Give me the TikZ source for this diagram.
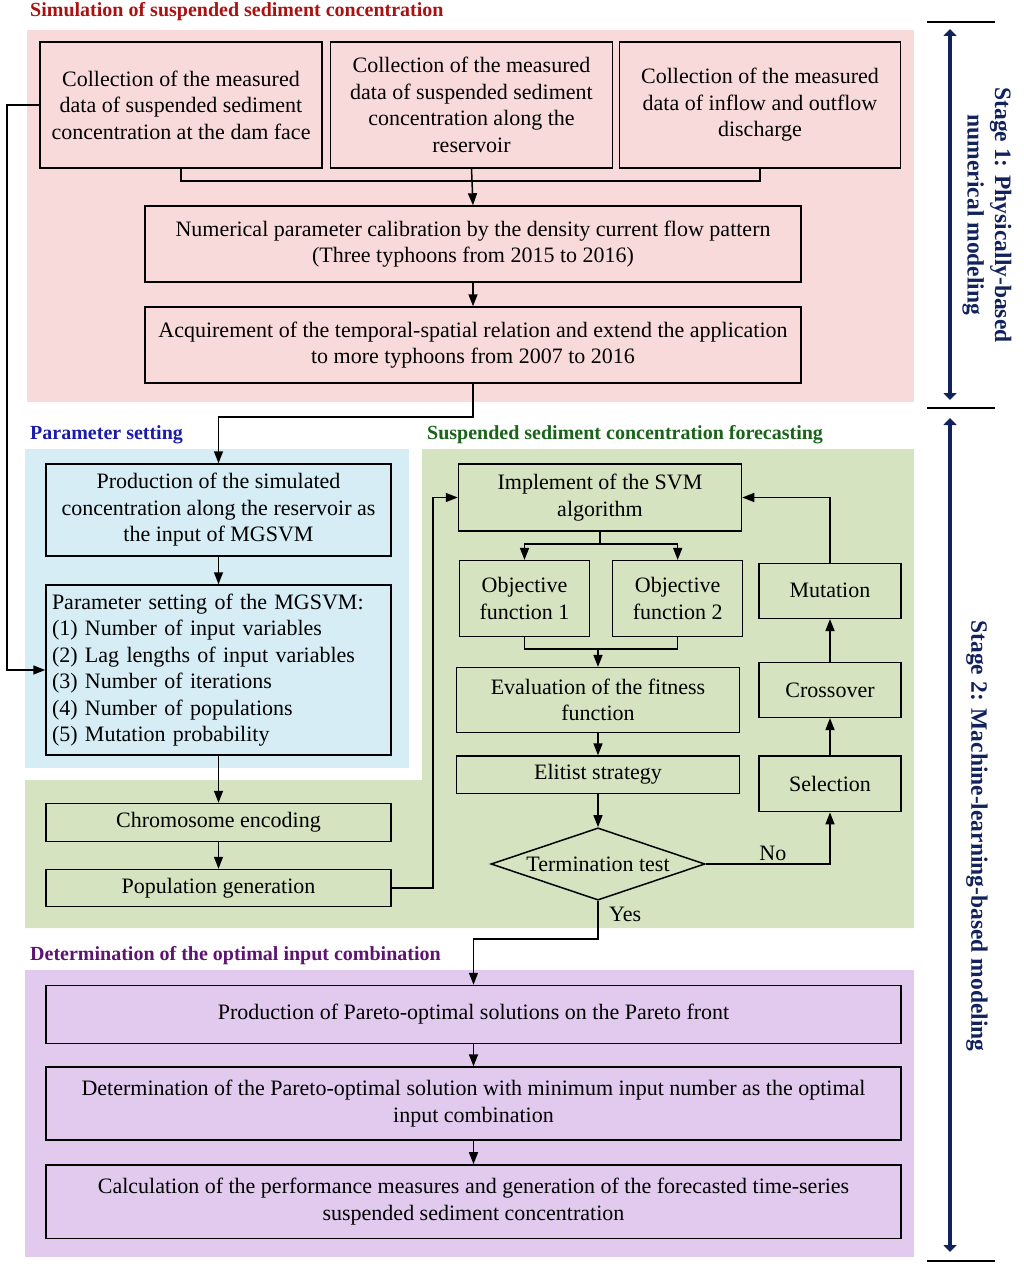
\documentclass[tikz,border=0pt]{standalone}
\usepackage{fontspec}
\setmainfont{Liberation Serif}
\usetikzlibrary{arrows.meta,shapes.geometric}
\definecolor{pinkbg}{RGB}{249,218,218}
\definecolor{bluebg}{RGB}{214,237,245}
\definecolor{greenbg}{RGB}{214,227,192}
\definecolor{purplebg}{RGB}{226,201,238}
\definecolor{redtitle}{RGB}{170,18,18}
\definecolor{bluetitle}{RGB}{28,28,170}
\definecolor{greentitle}{RGB}{25,100,25}
\definecolor{purpletitle}{RGB}{95,20,115}
\definecolor{navy}{RGB}{18,34,92}
\begin{document}
\begin{tikzpicture}[x=1pt,y=-1pt,
  box/.style={draw, line width=1.5pt, align=center, font=\fontsize{22}{26.5}\selectfont, inner sep=2pt},
  arr/.style={line width=1.5pt, -{Triangle[length=12pt,width=9pt]}},
  ln/.style={line width=1.5pt},
  ttl/.style={anchor=base west, inner sep=0pt, font=\bfseries\fontsize{20}{24}\selectfont},
  stg/.style={rotate=-90, align=center, text=navy, font=\bfseries\fontsize{23.5}{27.5}\selectfont},
  bar/.style={line width=2.5pt},
  darr/.style={navy, line width=4.5pt, {Triangle[length=7pt,width=13pt]}-{Triangle[length=7pt,width=13pt]}}]
\useasboundingbox (0,0) rectangle (1024,1271);
% backgrounds
\fill[pinkbg] (27,30) rectangle (914,402);
\fill[bluebg] (25,449) rectangle (409,768);
\fill[greenbg] (422,449) -- (914,449) -- (914,928) -- (25,928) -- (25,780) -- (422,780) -- cycle;
\fill[purplebg] (25,970) rectangle (914,1257);
% titles
\node[ttl, text=redtitle] (t1) at (30,17) {Simulation of suspended sediment concentration};
\node[ttl, text=bluetitle] (t2) at (30,439) {Parameter setting};
\node[ttl, text=greentitle] (t3) at (427,439) {Suspended sediment concentration forecasting};
\node[ttl, text=purpletitle] (t4) at (30,960) {Determination of the optimal input combination};
% stage 1 boxes
\node[box, minimum width=282pt, minimum height=126pt] (b1) at (181,105) {Collection of the measured\\data of suspended sediment\\concentration at the dam face};
\node[box, minimum width=282pt, minimum height=126pt] (b2) at (471.5,105) {Collection of the measured\\data of suspended sediment\\concentration along the\\reservoir};
\node[box, minimum width=281pt, minimum height=126pt] (b3) at (760,105) {Collection of the measured\\data of inflow and outflow\\discharge};
\node[box, minimum width=656pt, minimum height=76pt] (b4) at (473,244) {Numerical parameter calibration by the density current flow pattern\\(Three typhoons from 2015 to 2016)};
\node[box, minimum width=656pt, minimum height=76pt] (b5) at (473,345) {Acquirement of the temporal-spatial relation and extend the application\\to more typhoons from 2007 to 2016};
% parameter setting
\node[box, minimum width=345pt, minimum height=92pt] (b6) at (218.5,510) {Production of the simulated\\concentration along the reservoir as\\the input of MGSVM};
\node[box, minimum width=345pt, minimum height=170pt, align=left, text width=333pt, inner xsep=6pt] (b7) at (218.5,670) {Parameter setting of the MGSVM:\\(1) Number of input variables\\(2) Lag lengths of input variables\\(3) Number of iterations\\(4) Number of populations\\(5) Mutation probability};
\node[box, minimum width=345pt, minimum height=38pt] (chromo) at (218.5,822.5) {Chromosome encoding};
\node[box, minimum width=345pt, minimum height=37pt] (popgen) at (218.5,888) {Population generation};
% GA loop
\node[box, minimum width=283pt, minimum height=67pt] (svm) at (600,497.5) {Implement of the SVM\\algorithm};
\node[box, minimum width=130pt, minimum height=76pt] (obj1) at (524.5,598.7) {Objective\\function 1};
\node[box, minimum width=130pt, minimum height=76pt] (obj2) at (677.7,598.7) {Objective\\function 2};
\node[box, minimum width=283pt, minimum height=64.6pt] (eval) at (598,700) {Evaluation of the fitness\\function};
\node[box, minimum width=283pt, minimum height=37.3pt] (elit) at (598,774.7) {Elitist strategy};
\node[draw, line width=1.5pt, diamond, minimum width=214pt, minimum height=72.3pt, inner sep=0pt] (term) at (598,864) {};
\node[font=\fontsize{22}{26}\selectfont, inner sep=0pt] (termtxt) at (term.center) {Termination test};
\node[box, minimum width=142pt, minimum height=55pt] (mut) at (830,590.8) {Mutation};
\node[box, minimum width=142pt, minimum height=54.6pt] (cross) at (830,690) {Crossover};
\node[box, minimum width=142pt, minimum height=55.7pt] (sel) at (830,783.8) {Selection};
% purple
\node[box, minimum width=855pt, minimum height=58pt] (p1) at (473.5,1014.5) {Production of Pareto-optimal solutions on the Pareto front};
\node[box, minimum width=855pt, minimum height=73pt] (p2) at (473.5,1103.6) {Determination of the Pareto-optimal solution with minimum input number as the optimal\\input combination};
\node[box, minimum width=855pt, minimum height=73.3pt] (p3) at (473.5,1201.6) {Calculation of the performance measures and generation of the forecasted time-series\\suspended sediment concentration};
% connectors stage 1
\draw[ln] (b1.south) -- ++(0,12) -| (b3.south);
\draw[arr] (b2.south) -- (b4.north);
\draw[arr] (b4) -- (b5);
\draw[arr] (b5.south) -- ++(0,33) -| (b6.north);
\draw[arr] (b1.west) -- ++(-32.5,0) |- (b7.west);
\draw[arr] (b6) -- (b7);
\draw[arr] (b7) -- (chromo);
\draw[arr] (chromo) -- (popgen);
\draw[arr] (popgen.east) -- ++(41,0) |- (svm.west);
\draw[arr] (svm.south) -- ++(0,12) -| (obj1.north);
\draw[arr] (svm.south) -- ++(0,12) -| (obj2.north);
\draw[ln] (obj1.south) -- ++(0,11.6) -| (obj2.south);
\draw[arr] ([yshift=-11.6pt]eval.north |- obj1.south) -- (eval.north);
\draw[arr] (eval) -- (elit);
\draw[arr] (elit) -- (term);
\draw[arr] (term.east) -| node[pos=0.27, above, font=\fontsize{22}{26}\selectfont, inner sep=3pt] {No} (sel.south);
\draw[arr] (sel) -- (cross);
\draw[arr] (cross) -- (mut);
\draw[arr] (mut.north) |- (svm.east);
\draw[arr] (term.south) -- node[pos=0.35, right, xshift=7pt, font=\fontsize{22}{26}\selectfont] {Yes} ++(0,38.3) -| (p1.north);
\draw[arr] (p1) -- (p2);
\draw[arr] (p2) -- (p3);
% stages
\draw[bar] (927,22) -- (995,22);
\draw[bar] (927,408) -- (995,408);
\draw[bar] (927,1261) -- (995,1261);
\draw[darr] (950,29) -- (950,400);
\draw[darr] (950,418) -- (950,1252);
\node[stg] (s1) at (987,215) {Stage 1: Physically-based\\numerical modeling};
\node[stg] (s2) at (977,836) {Stage 2: Machine-learning-based modeling};
\end{tikzpicture}
\end{document}
